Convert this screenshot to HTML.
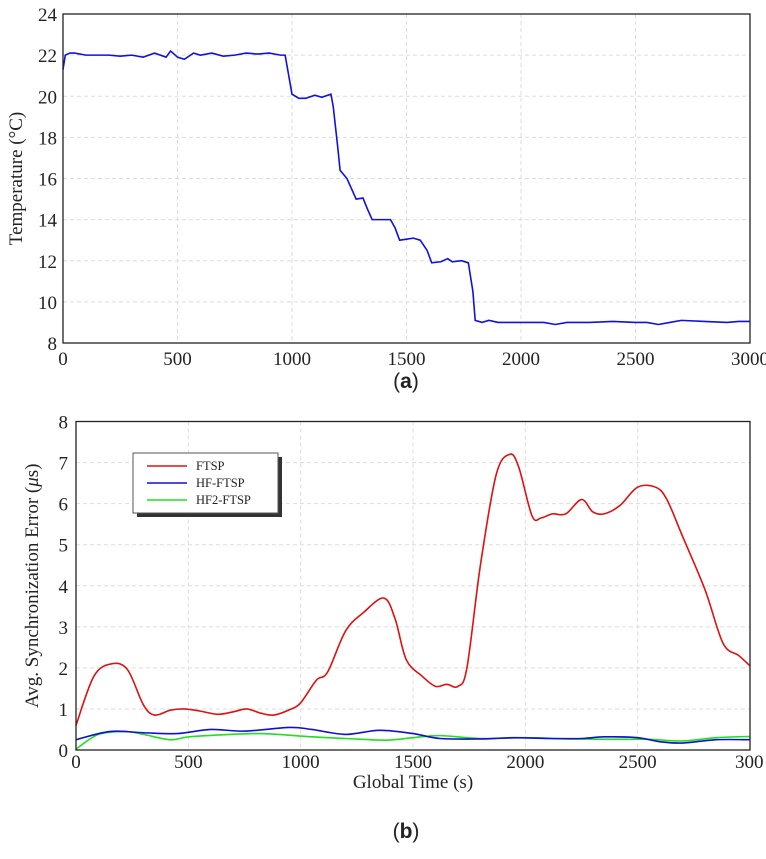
<!DOCTYPE html>
<html><head><meta charset="utf-8"><style>
body{margin:0;background:#fff;}
svg text{font-family:"Liberation Serif",serif;fill:#222;}
</style></head><body>
<svg id="s" width="766" height="854" xmlns="http://www.w3.org/2000/svg"></svg>
<script>
const tempX=[0,10,30,50,100,150,200,250,300,350,400,450,470,500,530,570,600,650,700,750,800,850,900,950,970,1000,1030,1060,1100,1130,1170,1180,1200,1210,1240,1260,1280,1310,1330,1350,1400,1430,1450,1470,1500,1530,1560,1590,1610,1650,1680,1700,1740,1770,1790,1800,1830,1860,1900,1950,2000,2100,2150,2200,2300,2400,2500,2550,2600,2650,2700,2800,2900,2950,3000];
const tempY=[21.3,22.0,22.1,22.1,22.0,22.0,22.0,21.95,22.0,21.9,22.1,21.9,22.2,21.9,21.8,22.1,22.0,22.1,21.95,22.0,22.1,22.05,22.1,22.0,22.0,20.1,19.9,19.9,20.05,19.95,20.1,19.5,17.5,16.4,16.0,15.5,15.0,15.05,14.5,14.0,14.0,14.0,13.6,13.0,13.05,13.1,13.0,12.5,11.9,11.95,12.1,11.95,12.0,11.9,10.5,9.1,9.0,9.1,9.0,9.0,9.0,9.0,8.9,9.0,9.0,9.05,9.0,9.0,8.9,9.0,9.1,9.05,9.0,9.05,9.05];
const ftspX=[0,80,160,230,300,350,420,480,550,630,700,760,820,880,950,1000,1070,1120,1200,1280,1370,1420,1470,1540,1600,1650,1700,1740,1800,1870,1930,1970,2030,2070,2120,2180,2250,2300,2350,2420,2500,2580,2630,2700,2800,2880,2950,3000];
const ftspY=[0.6,1.8,2.1,1.95,1.1,0.85,0.97,1.0,0.95,0.87,0.93,1.0,0.9,0.85,0.98,1.15,1.7,1.9,2.9,3.35,3.7,3.2,2.2,1.8,1.55,1.6,1.55,2.0,4.5,6.7,7.2,6.9,5.7,5.65,5.75,5.75,6.1,5.8,5.75,5.95,6.4,6.4,6.1,5.2,3.9,2.6,2.3,2.05];
const hfX=[0,150,300,450,600,750,950,1050,1200,1350,1500,1620,1800,1950,2100,2250,2350,2500,2600,2700,2850,3000];
const hfY=[0.25,0.45,0.42,0.4,0.5,0.46,0.55,0.5,0.38,0.48,0.4,0.28,0.27,0.3,0.28,0.28,0.32,0.3,0.2,0.17,0.25,0.25];
const hf2X=[0,100,220,300,420,500,650,800,900,1050,1200,1380,1500,1620,1800,2000,2200,2400,2550,2700,2850,3000];
const hf2Y=[0.02,0.38,0.45,0.38,0.25,0.32,0.37,0.4,0.38,0.32,0.28,0.24,0.3,0.35,0.28,0.3,0.27,0.26,0.26,0.22,0.3,0.33];
const topYTicks=[8,10,12,14,16,18,20,22,24];
const topXTicks=[0,500,1000,1500,2000,2500,3000];
const botYTicks=[0,1,2,3,4,5,6,7,8];
const botXTicks=[0,500,1000,1500,2000,2500,3000];
const botXLabels=["0","500","1000","1500","2000","2500","300"];

const svg=document.getElementById('s');
const NS='http://www.w3.org/2000/svg';
function mk(tag,attrs,parent){const e=document.createElementNS(NS,tag);for(const k in attrs)e.setAttribute(k,attrs[k]);(parent||svg).appendChild(e);return e;}
function smooth(pts){let d='M'+pts[0][0]+','+pts[0][1];for(let i=0;i<pts.length-1;i++){const p0=pts[Math.max(0,i-1)],p1=pts[i],p2=pts[i+1],p3=pts[Math.min(pts.length-1,i+2)];const c1=[p1[0]+(p2[0]-p0[0])/6,p1[1]+(p2[1]-p0[1])/6],c2=[p2[0]-(p3[0]-p1[0])/6,p2[1]-(p3[1]-p1[1])/6];d+=' C'+c1[0]+','+c1[1]+' '+c2[0]+','+c2[1]+' '+p2[0]+','+p2[1];}return d;}

// top chart
const T={l:63,r:750,t:14,b:343,y0:8,y1:24};
const tx=v=>T.l+(v/3000)*(T.r-T.l), ty=v=>T.b-(v-T.y0)/(T.y1-T.y0)*(T.b-T.t);
const g1=mk('g',{});


topXTicks.forEach(v=>{const l=mk('line',{x1:tx(v),x2:tx(v),y1:T.t,y2:T.b,stroke:'#ddd','stroke-dasharray':'4,3'},g1);
 const t=mk('text',{x:tx(v),y:T.b+22,'text-anchor':'middle','font-size':19},g1);t.textContent=v;});
topYTicks.forEach(v=>{const l=mk('line',{x1:T.l,x2:T.r,y1:ty(v),y2:ty(v),stroke:'#ddd','stroke-dasharray':'4,3'},g1);
 const t=mk('text',{x:T.l-6,y:ty(v)+7,'text-anchor':'end','font-size':19},g1);t.textContent=v;});
const tp=mk('polyline',{points:tempX.map((x,i)=>tx(x)+','+ty(tempY[i])).join(' '),fill:'none',stroke:'#1010e0','stroke-width':1.6},g1);

const f1=mk('rect',{x:T.l,y:T.t,width:T.r-T.l,height:T.b-T.t,fill:'none',stroke:'#222','stroke-width':1.3},g1);
const yt1=mk('text',{x:0,y:0,'text-anchor':'middle','font-size':19,transform:'translate(22,'+((T.t+T.b)/2)+') rotate(-90)'},g1);yt1.textContent='Temperature (°C)';
const la=mk('text',{x:406,y:388,'text-anchor':'middle','font-size':21,style:'font-family:"Liberation Sans",sans-serif'},g1);la.innerHTML='(<tspan font-weight="bold">a</tspan>)';

// bottom chart
const B={l:76,r:750,t:421.5,b:750,y0:0,y1:8};
const bx=v=>B.l+(v/3000)*(B.r-B.l), by=v=>B.b-(v-B.y0)/(B.y1-B.y0)*(B.b-B.t);
const g2=mk('g',{});


botXTicks.forEach((v,i)=>{const l=mk('line',{x1:bx(v),x2:bx(v),y1:B.t,y2:B.b,stroke:'#ddd','stroke-dasharray':'4,3'},g2);
 const t=mk('text',{x:bx(v),y:B.b+18,'text-anchor':i==botXTicks.length-1?'start':'middle','font-size':19},g2);if(i==botXTicks.length-1)t.setAttribute('x',bx(v)-15);t.textContent=botXLabels[i];});
botYTicks.forEach(v=>{const l=mk('line',{x1:B.l,x2:B.r,y1:by(v),y2:by(v),stroke:'#ddd','stroke-dasharray':'4,3'},g2);
 const t=mk('text',{x:B.l-8,y:by(v)+7,'text-anchor':'end','font-size':19},g2);t.textContent=v;});
const series=[[hf2X,hf2Y,'#22dd22','hf2-ftsp-line'],[hfX,hfY,'#1010d0','hf-ftsp-line'],[ftspX,ftspY,'#e01010','ftsp-line']];
series.forEach(s=>{const p=mk('path',{d:smooth(s[0].map((x,i)=>[bx(x),by(s[1][i])])),fill:'none',stroke:s[2],'stroke-width':1.6},g2);});
const f2=mk('rect',{x:B.l,y:B.t,width:B.r-B.l,height:B.b-B.t,fill:'none',stroke:'#222','stroke-width':1.3},g2);
const yt2=mk('text',{x:0,y:0,'text-anchor':'middle','font-size':19,transform:'translate(38,'+((B.t+B.b)/2)+') rotate(-90)'},g2);yt2.innerHTML='Avg. Synchronization Error (<tspan font-style="italic">μ</tspan>s)';
const xt2=mk('text',{x:413,y:788,'text-anchor':'middle','font-size':19},g2);xt2.textContent='Global Time (s)';
const lb=mk('text',{x:406,y:838,'text-anchor':'middle','font-size':21,style:'font-family:"Liberation Sans",sans-serif'},g2);lb.innerHTML='(<tspan font-weight="bold">b</tspan>)';
// legend
const lg=mk('g',{},g2);
mk('rect',{x:137,y:457,width:145,height:60,fill:'#333'},lg);
mk('rect',{x:133,y:453,width:145,height:60,fill:'#fff',stroke:'#555','stroke-width':1},lg);
[['FTSP','#e01010'],['HF-FTSP','#1010d0'],['HF2-FTSP','#22dd22']].forEach((e,i)=>{const y=466+i*17;
 const en=mk('g',{},lg);
 mk('line',{x1:147,x2:187,y1:y,y2:y,stroke:e[1],'stroke-width':1.6},en);
 const t=mk('text',{x:196,y:y+4,'font-size':12.5},en);t.textContent=e[0];});
</script>
</body></html>
